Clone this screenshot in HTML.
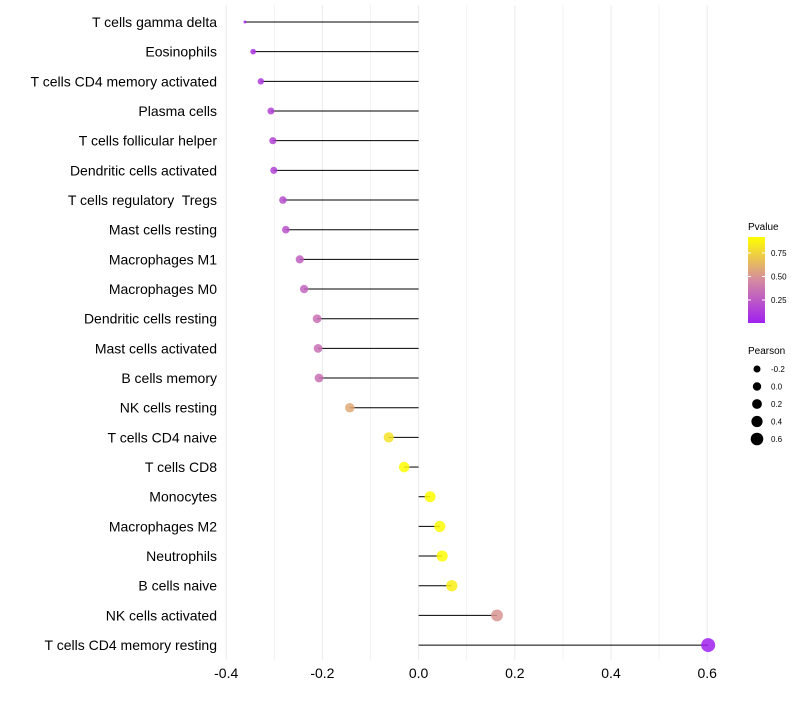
<!DOCTYPE html>
<html><head><meta charset="utf-8"><style>
body{margin:0;background:#fff;font-family:"Liberation Sans",sans-serif}
text{white-space:pre}
</style></head><body>
<svg id="c" width="800" height="700" xmlns="http://www.w3.org/2000/svg" font-family="Liberation Sans, sans-serif"></svg>
<script>
const categories=["T cells gamma delta","Eosinophils","T cells CD4 memory activated","Plasma cells","T cells follicular helper","Dendritic cells activated","T cells regulatory  Tregs","Mast cells resting","Macrophages M1","Macrophages M0","Dendritic cells resting","Mast cells activated","B cells memory","NK cells resting","T cells CD4 naive","T cells CD8","Monocytes","Macrophages M2","Neutrophils","B cells naive","NK cells activated","T cells CD4 memory resting"];
const pearson=[-0.361,-0.344,-0.328,-0.307,-0.303,-0.301,-0.282,-0.276,-0.247,-0.238,-0.211,-0.209,-0.207,-0.143,-0.062,-0.030,0.024,0.044,0.049,0.069,0.163,0.602];
const pvalue=[0.05,0.1,0.12,0.16,0.16,0.16,0.2,0.22,0.28,0.3,0.35,0.35,0.35,0.58,0.8,0.9,0.92,0.9,0.9,0.85,0.5,0.02];
const xTicks=[-0.4,-0.2,0,0.2,0.4,0.6];
const xMinor=[-0.3,-0.1,0.1,0.3,0.5];
const sizeLegend=[-0.2,0,0.2,0.4,0.6];
const colorTicks=[0.25,0.5,0.75];

const svg=document.getElementById('c');const NS="http://www.w3.org/2000/svg";
function mk(t,a,p){const e=document.createElementNS(NS,t);for(const k in a)e.setAttribute(k,a[k]);(p||svg).appendChild(e);return e;}
const x=v=>418.6+v*481;
const y=i=>22+i*29.67;
const pmin=Math.min(...pearson),pmax=Math.max(...pearson);
const rad=v=>{const t=Math.max(0,(v-pmin)/(pmax-pmin));return 1.5+5.5*Math.pow(t,0.35);};
function lerp(a,b,t){return a.map((c,i)=>Math.round(c+(b[i]-c)*t));}
function col(p){const t=Math.max(0,Math.min(1,(p-0.016)/(0.91-0.016)));const A=[160,32,240],M=[213,139,160],B=[255,255,0];const c=t<0.5?lerp(A,M,t*2):lerp(M,B,(t-0.5)*2);return `rgb(${c})`;}
xMinor.forEach(v=>{const l=mk('line',{x1:x(v),x2:x(v),y1:5,y2:660,stroke:'#f0f0f0','stroke-width':0.8});});
xTicks.forEach(v=>{const l=mk('line',{x1:x(v),x2:x(v),y1:5,y2:660,stroke:'#ebebeb','stroke-width':1});
const t=mk('text',{x:x(v),y:678,'text-anchor':'middle','font-size':14,fill:'#000'});t.textContent=v===0?'0.0':v.toFixed(1);});
categories.forEach((c,i)=>{
const t=mk('text',{x:217,y:y(i)+5,'text-anchor':'end','font-size':14,fill:'#000'});t.textContent=c;
const l=mk('line',{x1:x(0),x2:x(pearson[i]),y1:y(i),y2:y(i),stroke:'#000','stroke-width':1});
const p=mk('circle',{cx:x(pearson[i]),cy:y(i),r:rad(pearson[i]),fill:col(pvalue[i]),'fill-opacity':0.85});
});
const g=mk('g',{});
const tt=mk('text',{x:748,y:230,'font-size':10},g);tt.textContent='Pvalue';
const defs=mk('defs',{},g);const lg=mk('linearGradient',{id:'gr',x1:0,y1:1,x2:0,y2:0},defs);
[0,0.25,0.5,0.75,1].forEach(s=>mk('stop',{offset:s,'stop-color':col(0.016+s*(0.91-0.016))},lg));
mk('rect',{x:748,y:237,width:17,height:86,fill:'url(#gr)'},g);
const cy=p=>322-(p-0.016)*94;
colorTicks.forEach(p=>{mk('line',{x1:748,x2:751,y1:cy(p),y2:cy(p),stroke:'#fff'},g);mk('line',{x1:762,x2:765,y1:cy(p),y2:cy(p),stroke:'#fff'},g);const t=mk('text',{x:771,y:cy(p)+3,'font-size':8},g);t.textContent=p.toFixed(2);});
const g2=mk('g',{});
const t2=mk('text',{x:748,y:354,'font-size':10},g2);t2.textContent='Pearson';
sizeLegend.forEach((v,i)=>{const yy=369+i*17.5;mk('circle',{cx:757,cy:yy,r:3.5+(v+0.2)*3.5,fill:'#000'},g2);const t=mk('text',{x:771,y:yy+3,'font-size':8},g2);t.textContent=v===0?'0.0':v.toFixed(1);});
</script>
</body></html>
